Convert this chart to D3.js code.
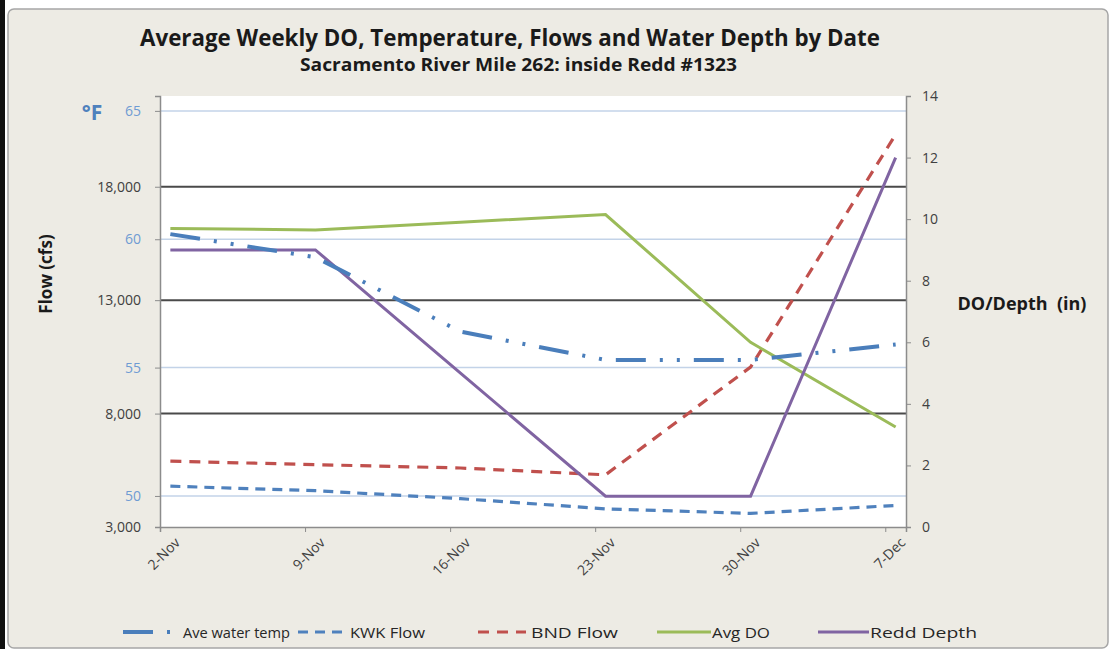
<!DOCTYPE html>
<html>
<head>
<meta charset="utf-8">
<script src="https://cdn.jsdelivr.net/npm/d3@7"></script>
<style>
body { margin: 0; background: #fff; }
text { font-family: "Open Sans", sans-serif; }
</style>
</head>
<body>
<svg id="chart"></svg>
<script>
// weekly values
var dates = ["2009-11-02","2009-11-09","2009-11-16","2009-11-23","2009-11-30","2009-12-07"];
var aveTemp = [60.2, 59.3, 56.4, 55.3, 55.3, 55.9];
var kwkFlow = [4800, 4600, 4250, 3800, 3600, 3950];
var bndFlow = [5900, 5750, 5600, 5300, 10050, 20300];
var avgDO = [9.7, 9.65, 9.9, 10.15, 6.0, 3.25];
var reddDepth = [9, 9, 5, 1, 1, 12];

var flowTicks = [3000, 8000, 13000, 18000];
var tempTicks = [50, 55, 60, 65];
var rightTicks = [0, 2, 4, 6, 8, 10, 12, 14];

var screen = {width:1109, height:649};
var plot = {left:160, right:906, top:96, bottom:527};

var svg = d3.select("#chart")
    .attr("width", screen.width)
    .attr("height", screen.height);

// frame
svg.append("rect").attr("x",0).attr("y",0).attr("width",screen.width).attr("height",screen.height).attr("fill","#fff");
svg.append("rect").attr("x",0).attr("y",0).attr("width",5).attr("height",screen.height).attr("fill","#111");
svg.append("rect")
    .attr("x",8).attr("y",9).attr("width",screen.width-9).attr("height",screen.height-10)
    .attr("rx",6)
    .attr("fill","#edebe4").attr("stroke","#a6a6a6").attr("stroke-width",1.5);

var parse = d3.utcParse("%Y-%m-%d");
var dayStart = dates.map(parse);
var points = dayStart.map(function(d){ return d3.utcHour.offset(d, 12); });

var xScale = d3.scaleUtc()
    .domain([dayStart[0], d3.utcDay.offset(dayStart[dayStart.length-1], 1)])
    .range([plot.left, plot.right]);
var flowScale = d3.scaleLinear().domain([3000, 22000]).range([plot.bottom, plot.top]);
var tempScale = d3.scaleLinear().domain([48.79, 65.58]).range([plot.bottom, plot.top]);
var rightScale = d3.scaleLinear().domain([0, 14]).range([plot.bottom, plot.top]);

svg.append("rect")
    .attr("x",plot.left).attr("y",plot.top)
    .attr("width",plot.right-plot.left).attr("height",plot.bottom-plot.top)
    .attr("fill","#fff");

// gridlines
svg.append("g").selectAll("line").data(tempTicks).enter().append("line")
    .attr("x1",plot.left).attr("x2",plot.right)
    .attr("y1",function(d){return tempScale(d)}).attr("y2",function(d){return tempScale(d)})
    .attr("stroke","#c3d3e8").attr("stroke-width",1.5);
svg.append("g").selectAll("line").data(flowTicks.slice(1)).enter().append("line")
    .attr("x1",plot.left).attr("x2",plot.right)
    .attr("y1",function(d){return flowScale(d)}).attr("y2",function(d){return flowScale(d)})
    .attr("stroke","#4a4a4a").attr("stroke-width",2);

// axes
var leftG = svg.append("g").attr("transform","translate("+plot.left+",0)");
leftG.call(d3.axisLeft(flowScale).tickValues(flowTicks).tickFormat(d3.format(",")).tickSize(5).tickPadding(14));
var tempG = svg.append("g").attr("transform","translate("+plot.left+",0)");
tempG.call(d3.axisLeft(tempScale).tickValues(tempTicks).tickSize(5).tickPadding(14));
var rightG = svg.append("g").attr("transform","translate("+plot.right+",0)");
rightG.call(d3.axisRight(rightScale).tickValues(rightTicks).tickSize(5).tickPadding(11));
var bottomG = svg.append("g").attr("transform","translate(0,"+plot.bottom+")");
bottomG.call(d3.axisBottom(xScale).tickValues(dayStart).tickFormat(d3.utcFormat("%-d-%b")).tickSize(5));

[leftG, tempG, rightG, bottomG].forEach(function(g){
    g.select(".domain").attr("stroke","#8c8c8c").attr("stroke-width",1.5);
    g.selectAll(".tick line").attr("stroke","#8c8c8c");
    g.selectAll("text").style("font-family","'Open Sans', sans-serif").attr("font-size",14).attr("fill","#404040");
});
tempG.select(".domain").remove();
tempG.selectAll("text").attr("fill","#6f9bd3");
bottomG.selectAll("text")
    .attr("text-anchor","end")
    .attr("y",0).attr("dy","0.35em")
    .attr("transform","translate(17,13) rotate(-45)");

// series
var line = function(yScale){
    return d3.line()
        .x(function(d,i){return xScale(points[i])})
        .y(function(d){return yScale(d)});
};
var series = [
    {name:"KWK Flow", values:kwkFlow, scale:flowScale, color:"#4f81bd", dash:"10,7", width:3.2},
    {name:"BND Flow", values:bndFlow, scale:flowScale, color:"#c0504d", dash:"11,8", width:3.2},
    {name:"Avg DO", values:avgDO, scale:rightScale, color:"#9bbb59", dash:null, width:3},
    {name:"Redd Depth", values:reddDepth, scale:rightScale, color:"#8064a2", dash:null, width:3},
    {name:"Ave water temp", values:aveTemp, scale:tempScale, color:"#4a7ebb", dash:"30,14,3,14,3,14", width:4}
];
svg.append("g").selectAll("path").data(series).enter().append("path")
    .attr("d",function(s){return line(s.scale)(s.values)})
    .attr("fill","none")
    .attr("stroke",function(s){return s.color})
    .attr("stroke-width",function(s){return s.width})
    .attr("stroke-dasharray",function(s){return s.dash});

// titles
var labels = svg.append("g").attr("font-weight","bold").attr("fill","#1a1a1a");
labels.append("text").text("Average Weekly DO, Temperature, Flows and Water Depth by Date")
    .attr("x",140).attr("y",46).attr("font-size",24)
    .attr("textLength",740).attr("lengthAdjust","spacingAndGlyphs");
labels.append("text").text("Sacramento River Mile 262: inside Redd #1323")
    .attr("x",300).attr("y",71).attr("font-size",17)
    .attr("textLength",437).attr("lengthAdjust","spacingAndGlyphs");
labels.append("text").text("°F")
    .attr("x",92).attr("y",120).attr("text-anchor","middle").attr("font-size",21)
    .attr("fill","#4f81bd");
labels.append("text").text("Flow (cfs)")
    .attr("transform","translate(52,274) rotate(-90)")
    .attr("text-anchor","middle").attr("font-size",17);
labels.append("text").text("DO/Depth  (in)")
    .attr("x",1022).attr("y",310).attr("text-anchor","middle").attr("font-size",18)
    .attr("xml:space","preserve");

// legend
var legend = [
    {s:series[4], x1:123, x2:180, tx:183, w:107},
    {s:series[0], x1:298, x2:346, tx:350, w:75},
    {s:series[1], x1:478, x2:526, tx:531, w:87},
    {s:series[2], x1:657, x2:711, tx:712, w:58},
    {s:series[3], x1:818, x2:869, tx:870, w:107}
];
var lg = svg.append("g");
lg.selectAll("line").data(legend).enter().append("line")
    .attr("x1",function(d){return d.x1}).attr("x2",function(d){return d.x2})
    .attr("y1",632).attr("y2",632)
    .attr("stroke",function(d){return d.s.color})
    .attr("stroke-width",function(d){return d.s.width})
    .attr("stroke-dasharray",function(d){return d.s.dash});
lg.selectAll("text").data(legend).enter().append("text")
    .text(function(d){return d.s.name})
    .attr("x",function(d){return d.tx}).attr("y",638)
    .attr("font-size",15).attr("fill","#262626")
    .attr("textLength",function(d){return d.w}).attr("lengthAdjust","spacingAndGlyphs");
</script>
</body>
</html>
